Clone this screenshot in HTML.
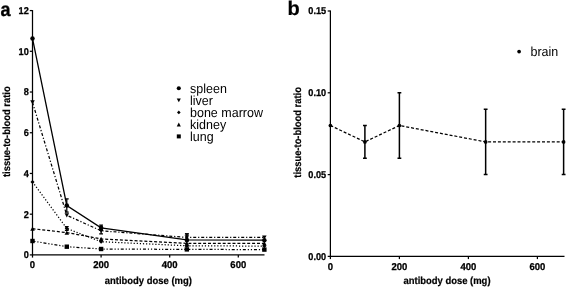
<!DOCTYPE html>
<html lang="en"><head><meta charset="utf-8"><title>Tissue-to-blood ratio</title>
<style>html,body{margin:0;padding:0;background:#fff}svg{display:block}</style></head>
<body>
<svg width="567" height="287" viewBox="0 0 567 287">
<rect width="567" height="287" fill="#fff"/>
<g font-family="'Liberation Sans', Arial, sans-serif" fill="#000" stroke="none" text-rendering="geometricPrecision">
<text transform="translate(0.5,15.8) scale(0.99,1.08)" font-size="18.2" font-weight="bold" stroke="#000" stroke-width="0.3">a</text>
<text transform="translate(287.4,15.2)" font-size="20" font-weight="bold" stroke="#000" stroke-width="0.2">b</text>
<g stroke="#000" stroke-width="1.25" fill="none">
<path d="M32.5 10.08V255.4"/>
<path d="M32 254.9H264.5"/>
<path d="M29.8 254.9H32.5"/>
<path d="M29.8 214.18H32.5"/>
<path d="M29.8 173.46H32.5"/>
<path d="M29.8 132.74H32.5"/>
<path d="M29.8 92.02H32.5"/>
<path d="M29.8 51.3H32.5"/>
<path d="M29.8 10.58H32.5"/>
<path d="M32.5 254.9V257.6"/>
<path d="M101.1 254.9V257.6"/>
<path d="M169.7 254.9V257.6"/>
<path d="M238.3 254.9V257.6"/>
</g>
<text transform="translate(28.8,258.25) scale(1.02,1.1)" font-size="9" font-weight="bold" stroke="#000" stroke-width="0.25" text-anchor="end">0</text>
<text transform="translate(28.8,217.53) scale(1.02,1.1)" font-size="9" font-weight="bold" stroke="#000" stroke-width="0.25" text-anchor="end">2</text>
<text transform="translate(28.8,176.81) scale(1.02,1.1)" font-size="9" font-weight="bold" stroke="#000" stroke-width="0.25" text-anchor="end">4</text>
<text transform="translate(28.8,136.09) scale(1.02,1.1)" font-size="9" font-weight="bold" stroke="#000" stroke-width="0.25" text-anchor="end">6</text>
<text transform="translate(28.8,95.37) scale(1.02,1.1)" font-size="9" font-weight="bold" stroke="#000" stroke-width="0.25" text-anchor="end">8</text>
<text transform="translate(28.8,54.65) scale(1.02,1.1)" font-size="9" font-weight="bold" stroke="#000" stroke-width="0.25" text-anchor="end">10</text>
<text transform="translate(28.8,13.93) scale(1.02,1.1)" font-size="9" font-weight="bold" stroke="#000" stroke-width="0.25" text-anchor="end">12</text>
<text transform="translate(32.5,268) scale(1.06,1.1)" font-size="9" font-weight="bold" stroke="#000" stroke-width="0.25" text-anchor="middle">0</text>
<text transform="translate(101.1,268) scale(1.06,1.1)" font-size="9" font-weight="bold" stroke="#000" stroke-width="0.25" text-anchor="middle">200</text>
<text transform="translate(169.7,268) scale(1.06,1.1)" font-size="9" font-weight="bold" stroke="#000" stroke-width="0.25" text-anchor="middle">400</text>
<text transform="translate(238.3,268) scale(1.06,1.1)" font-size="9" font-weight="bold" stroke="#000" stroke-width="0.25" text-anchor="middle">600</text>
<g stroke="#000" stroke-width="1.25" fill="none">
<path d="M330.4 10.5V256.9"/>
<path d="M329.9 256.4H564.5"/>
<path d="M327.7 256.4H330.4"/>
<path d="M327.7 174.6H330.4"/>
<path d="M327.7 92.8H330.4"/>
<path d="M327.7 11H330.4"/>
<path d="M330.4 256.4V259.1"/>
<path d="M399.4 256.4V259.1"/>
<path d="M468.4 256.4V259.1"/>
<path d="M537.4 256.4V259.1"/>
</g>
<text transform="translate(326.2,259.75) scale(1.02,1.1)" font-size="9" font-weight="bold" stroke="#000" stroke-width="0.25" text-anchor="end">0.00</text>
<text transform="translate(326.2,177.95) scale(1.02,1.1)" font-size="9" font-weight="bold" stroke="#000" stroke-width="0.25" text-anchor="end">0.05</text>
<text transform="translate(326.2,96.15) scale(1.02,1.1)" font-size="9" font-weight="bold" stroke="#000" stroke-width="0.25" text-anchor="end">0.10</text>
<text transform="translate(326.2,14.35) scale(1.02,1.1)" font-size="9" font-weight="bold" stroke="#000" stroke-width="0.25" text-anchor="end">0.15</text>
<text transform="translate(330.4,269.5) scale(1.06,1.1)" font-size="9" font-weight="bold" stroke="#000" stroke-width="0.25" text-anchor="middle">0</text>
<text transform="translate(399.4,269.5) scale(1.06,1.1)" font-size="9" font-weight="bold" stroke="#000" stroke-width="0.25" text-anchor="middle">200</text>
<text transform="translate(468.4,269.5) scale(1.06,1.1)" font-size="9" font-weight="bold" stroke="#000" stroke-width="0.25" text-anchor="middle">400</text>
<text transform="translate(537.4,269.5) scale(1.06,1.1)" font-size="9" font-weight="bold" stroke="#000" stroke-width="0.25" text-anchor="middle">600</text>
<text transform="translate(148.3,283.7) scale(1,1.08)" font-size="9.45" font-weight="bold" stroke="#000" stroke-width="0.2" text-anchor="middle">antibody dose (mg)</text>
<text transform="translate(447,283.7) scale(1,1.08)" font-size="9.45" font-weight="bold" stroke="#000" stroke-width="0.2" text-anchor="middle">antibody dose (mg)</text>
<text transform="translate(10.4,131.7) rotate(-90) scale(1,1.1)" font-size="9.4" font-weight="bold" stroke="#000" stroke-width="0.2" text-anchor="middle">tissue-to-blood ratio</text>
<text transform="translate(300.9,132.4) rotate(-90) scale(1,1.1)" font-size="9.4" font-weight="bold" stroke="#000" stroke-width="0.2" text-anchor="middle">tissue-to-blood ratio</text>
<polyline points="32.5,38.5 66.8,205.5 101.1,227.8 186.85,239.9 264.37,240.2" fill="none" stroke="#000" stroke-width="1.25"/>
<path d="M66.8 198.78V212.22M64.9 198.78H68.7M64.9 212.22H68.7" stroke="#000" stroke-width="1.25" fill="none"/>
<path d="M101.1 225.15V230.45M99.2 225.15H103M99.2 230.45H103" stroke="#000" stroke-width="1.25" fill="none"/>
<path d="M186.85 233.79V246.01M184.95 233.79H188.75M184.95 246.01H188.75" stroke="#000" stroke-width="1.25" fill="none"/>
<circle cx="32.5" cy="38.5" r="2.25"/>
<circle cx="66.8" cy="205.5" r="2.25"/>
<circle cx="101.1" cy="227.8" r="2.25"/>
<circle cx="186.85" cy="239.9" r="2.25"/>
<circle cx="264.37" cy="240.2" r="2.25"/>
<polyline points="32.5,102.4 66.8,215.3 101.1,230.8 186.85,237.4 264.37,237.5" fill="none" stroke="#000" stroke-width="1.25" stroke-dasharray="3 1.9 1.2 1.9"/>
<path d="M101.1 227.75V233.85M99.2 227.75H103M99.2 233.85H103" stroke="#000" stroke-width="1.25" fill="none"/>
<path d="M186.85 233.94V240.86M184.95 233.94H188.75M184.95 240.86H188.75" stroke="#000" stroke-width="1.25" fill="none"/>
<path d="M32.5 104.49L34.76 100.31L30.25 100.31Z"/>
<path d="M66.8 217.39L69.06 213.21L64.55 213.21Z"/>
<path d="M101.1 232.89L103.36 228.71L98.85 228.71Z"/>
<path d="M186.85 239.49L189.11 235.31L184.6 235.31Z"/>
<path d="M264.37 239.59L266.62 235.41L262.11 235.41Z"/>
<polyline points="32.5,182 66.8,228.5 101.1,241.7 186.85,245.8 264.37,246.1" fill="none" stroke="#000" stroke-width="1.25" stroke-dasharray="1.2 1.9"/>
<path d="M66.8 226.67V230.33M64.9 226.67H68.7M64.9 230.33H68.7" stroke="#000" stroke-width="1.25" fill="none"/>
<path d="M32.5 179.91L34.59 182L32.5 184.09L30.41 182Z"/>
<path d="M66.8 226.41L68.89 228.5L66.8 230.59L64.71 228.5Z"/>
<path d="M101.1 239.61L103.19 241.7L101.1 243.79L99.01 241.7Z"/>
<path d="M186.85 243.71L188.94 245.8L186.85 247.89L184.76 245.8Z"/>
<path d="M264.37 244.01L266.46 246.1L264.37 248.19L262.28 246.1Z"/>
<polyline points="32.5,228.7 66.8,232.6 101.1,238.9 186.85,243.4 264.37,243.3" fill="none" stroke="#000" stroke-width="1.25" stroke-dasharray="3 1.9"/>
<path d="M32.5 226.61L34.76 230.79L30.25 230.79Z"/>
<path d="M66.8 230.51L69.06 234.69L64.55 234.69Z"/>
<path d="M101.1 236.81L103.36 240.99L98.85 240.99Z"/>
<path d="M186.85 241.31L189.11 245.49L184.6 245.49Z"/>
<path d="M264.37 241.21L266.62 245.39L262.11 245.39Z"/>
<polyline points="32.5,241 66.8,246.7 101.1,249 186.85,249.4 264.37,249.6" fill="none" stroke="#000" stroke-width="1.25" stroke-dasharray="3 1.9 1.2 1.9 1.2 1.9"/>
<rect x="30.3" y="238.8" width="4.4" height="4.4"/>
<rect x="64.6" y="244.5" width="4.4" height="4.4"/>
<rect x="98.9" y="246.8" width="4.4" height="4.4"/>
<rect x="184.65" y="247.2" width="4.4" height="4.4"/>
<rect x="262.17" y="247.4" width="4.4" height="4.4"/>
<circle cx="178.8" cy="88.3" r="2.05"/>
<text transform="translate(190,92.8) scale(1,1.05)" font-size="12.5">spleen</text>
<path d="M178.8 102.2L180.85 98.4L176.75 98.4Z"/>
<text transform="translate(190,104.8) scale(1,1.05)" font-size="12.5">liver</text>
<path d="M178.8 110.59L180.61 112.4L178.8 114.21L177 112.4Z"/>
<text transform="translate(190,116.8) scale(1,1.05)" font-size="12.5">bone marrow</text>
<path d="M178.8 122.6L180.85 126.4L176.75 126.4Z"/>
<text transform="translate(190,128.8) scale(1,1.05)" font-size="12.5">kidney</text>
<rect x="176.8" y="134.4" width="4" height="4"/>
<text transform="translate(190,140.8) scale(1,1.05)" font-size="12.5">lung</text>
<polyline points="330.4,125.52 364.9,141.88 399.4,125.52 485.65,141.88 563.62,141.88" fill="none" stroke="#000" stroke-width="1.25" stroke-dasharray="3 1.9"/>
<path d="M364.9 125.52V158.24M363 125.52H366.8M363 158.24H366.8" stroke="#000" stroke-width="1.5" fill="none"/>
<path d="M399.4 92.8V158.24M397.5 92.8H401.3M397.5 158.24H401.3" stroke="#000" stroke-width="1.5" fill="none"/>
<path d="M485.65 109.16V174.6M483.75 109.16H487.55M483.75 174.6H487.55" stroke="#000" stroke-width="1.5" fill="none"/>
<path d="M563.62 109.16V174.6M561.72 109.16H565.52M561.72 174.6H565.52" stroke="#000" stroke-width="1.5" fill="none"/>
<circle cx="330.4" cy="125.52" r="1.84"/>
<circle cx="364.9" cy="141.88" r="1.84"/>
<circle cx="399.4" cy="125.52" r="1.84"/>
<circle cx="485.65" cy="141.88" r="1.84"/>
<circle cx="563.62" cy="141.88" r="1.84"/>
<circle cx="519.1" cy="51.6" r="1.84"/>
<text transform="translate(530.5,55.9) scale(1,1.05)" font-size="12.5">brain</text>
</g></svg>
</body></html>
